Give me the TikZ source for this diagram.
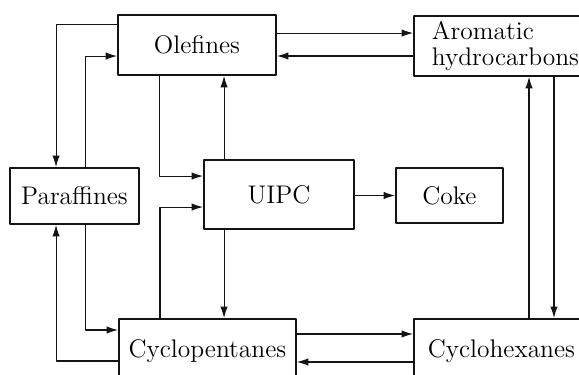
\documentclass[tikz,border=0pt]{standalone}
\usepackage{tikz}
\usetikzlibrary{arrows.meta,positioning,calc}
\definecolor{rxedge}{RGB}{20,20,20}
\tikzset{
  rxbox/.style={
    draw=rxedge, line width=1.1pt, align=center, inner sep=3pt,
    font=\fontsize{14.5}{14.5}\selectfont, fill=white
  },
  lbox/.style={rxbox, anchor=north west, align=left, text width=3.4cm},
  arr/.style={-{Latex[length=2.3mm,width=1.5mm]}, draw=rxedge, line width=0.6pt},
  every picture/.append style={line join=round}
}
\begin{document}
\begin{tikzpicture}[x=0.02cm,y=-0.02cm]
  \useasboundingbox (0,0) rectangle (579,375);
  \clip (0,0) rectangle (579,375);
  \node[rxbox, minimum width=3.16cm, minimum height=1.2cm] (ole) at (197,45) {Olefines};
  \node[lbox, minimum height=1.2cm, inner xsep=0.36cm, inner ysep=1pt] (aro) at (413,15) {Aromatic\\hydrocarbons};
  \node[rxbox, minimum width=2.58cm, minimum height=1.12cm] (par) at (74.5,196) {Paraffines};
  \node[rxbox, minimum width=3cm, minimum height=1.38cm] (uipc) at (279,194.5) {UIPC};
  \node[rxbox, minimum width=2.14cm, minimum height=1.1cm] (coke) at (449.5,195.5) {Coke};
  \node[rxbox, anchor=north west, minimum width=3.54cm, minimum height=1.28cm] (cpen) at (118,318) {Cyclopentanes};
  \node[lbox, minimum height=1.28cm, inner xsep=0.28cm] (chex) at (413,318) {Cyclohexanes};
  % olefines <-> paraffines
  \draw[arr] ($(ole.north west)+(0,10)$) -| ($(par.north west)+(47,0)$);
  \draw[arr] ($(par.north west)+(76,0)$) |- ($(ole.north west)+(0,42)$);
  % olefines <-> UIPC
  \draw[arr] ($(ole.south west)+(42,0)$) |- ($(uipc.north west)+(0,17)$);
  \draw[arr] ($(uipc.north west)+(21,0)$) coordinate (u1) -- (u1 |- ole.south);
  % olefines <-> aromatics
  \draw[arr] ($(ole.north east)+(0,19)$) coordinate (o1) -- (o1 -| aro.west);
  \draw[arr] ($(aro.north west)+(0,41)$) coordinate (a1) -- (a1 -| ole.east);
  % aromatics <-> cyclohexanes
  \draw[arr] ($(chex.north west)+(116,0)$) coordinate (h1) -- (h1 |- aro.south);
  \draw[arr] ($(aro.south west)+(141,0)$) coordinate (a2) -- (a2 |- chex.north);
  \draw[arr] (uipc.east |- coke) -- (coke.west);
  % cyclopentanes <-> UIPC
  \draw[arr] ($(cpen.north west)+(42,0)$) |- ($(uipc.north west)+(0,48)$);
  \draw[arr] ($(uipc.south west)+(21,0)$) coordinate (u2) -- (u2 |- cpen.north);
  % paraffines <-> cyclopentanes
  \draw[arr] ($(par.south west)+(76,0)$) |- ($(cpen.north west)+(0,12)$);
  \draw[arr] ($(cpen.north west)+(0,43)$) -| ($(par.south west)+(47,0)$);
  % cyclopentanes <-> cyclohexanes
  \draw[arr] ($(cpen.north east)+(0,16)$) coordinate (p1) -- (p1 -| chex.west);
  \draw[arr] ($(chex.north west)+(0,44)$) coordinate (h2) -- (h2 -| cpen.east);
\end{tikzpicture}
\end{document}
